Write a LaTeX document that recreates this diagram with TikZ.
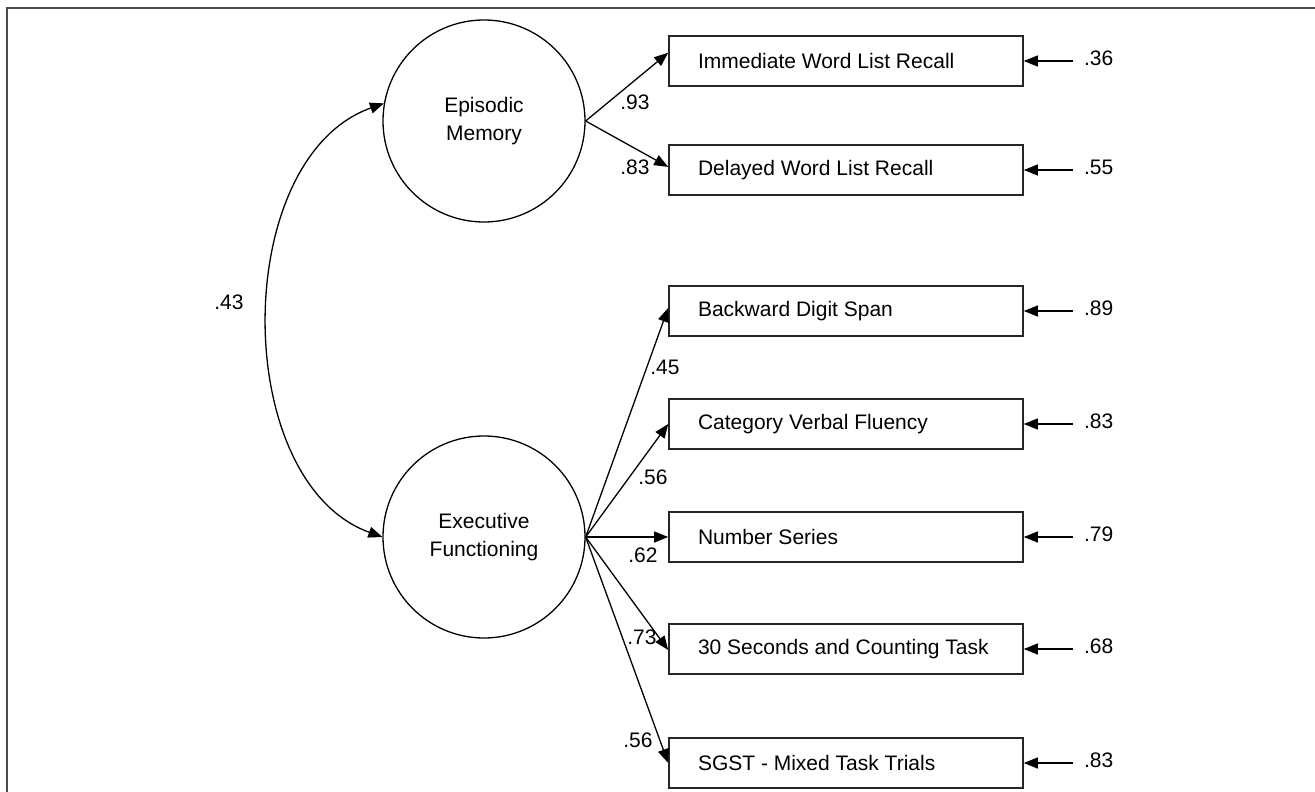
\documentclass[tikz,border=0pt]{standalone}
\usepackage{fontspec}
\setmainfont{Liberation Sans}
\usetikzlibrary{arrows.meta,calc}
\newcommand\boxtxt[1]{\makebox[296pt][l]{#1}}
\begin{document}
\begin{tikzpicture}[x=1pt,y=-1pt,
  every node/.style={font=\fontsize{21}{28}\selectfont},
  latent/.style={circle,draw,line width=1.3pt,minimum size=202pt,inner sep=0pt,align=center},
  obs/.style={rectangle,draw=black!85,line width=1.6pt,minimum width=354pt,minimum height=50pt,inner sep=0pt},
  pathar/.style={line width=1.3pt,-{Triangle[length=14pt,width=11pt]}},
  dblar/.style={line width=1.3pt,{Triangle[length=14pt,width=11pt]}-{Triangle[length=14pt,width=11pt]}},
  lbl/.style={inner sep=0pt},
]
\useasboundingbox (0,0) rectangle (1315,792);
\draw[line width=2pt,black!70] (7,792) -- (7,8) -- (1315,8);

\node[latent] (em) at (484,121) {Episodic\\Memory};
\node[latent] (ef) at (484,537) {Executive\\Functioning};

\node[obs] (imm) at (846,61) {\boxtxt{Immediate Word List Recall}};
\node[obs] (del) at (846,170) {\boxtxt{Delayed Word List Recall}};
\node[obs] (bds) at (846,311) {\boxtxt{Backward Digit Span}};
\node[obs] (cvf) at (846,424) {\boxtxt{Category Verbal Fluency}};
\node[obs] (ns)  at (846,537) {\boxtxt{Number Series}};
\node[obs] (sct) at (846,649) {\boxtxt{30 Seconds and Counting Task}};
\node[obs] (sg)  at (846,763) {\boxtxt{SGST - Mixed Task Trials}};

\draw[pathar] (em.east) -- ($(imm.north west)!0.34!(imm.south west)$);
\draw[pathar] (em.east) -- ($(del.north west)!0.44!(del.south west)$);
\draw[pathar] (ef.east) -- ($(bds.north west)!0.44!(bds.south west)$);
\draw[pathar] (ef.east) -- (cvf.west);
\draw[pathar] (ef.east) -- (ns.west);
\draw[pathar] (ef.east) -- ($(sct.north west)!0.52!(sct.south west)$);
\draw[pathar] (ef.east) -- (sg.west);

\draw[dblar] (em.170) .. controls (230,158) and (230,482) .. (ef.west);
\node[lbl] (lc) at (229,302) {.43};

\node[lbl] (l1) at (635,102) {.93};
\node[lbl] (l2) at (635,167) {.83};
\node[lbl] (l3) at (665,367) {.45};
\node[lbl] (l4) at (653,477) {.56};
\node[lbl] (l5) at (643,555) {.62};
\node[lbl] (l6) at (642,637) {.73};
\node[lbl] (l7) at (638,740) {.56};

\foreach \b/\v in {imm/.36,del/.55,bds/.89,cvf/.83,ns/.79,sct/.68,sg/.83}{
  \coordinate (e\b) at ($(\b.east)+(49,0)$);
  \draw[pathar] (e\b) -- (\b.east);
  \node[lbl,anchor=west] (t\b) at ($(\b.east)+(60,-3)$) {\v};
}
\end{tikzpicture}
\end{document}
